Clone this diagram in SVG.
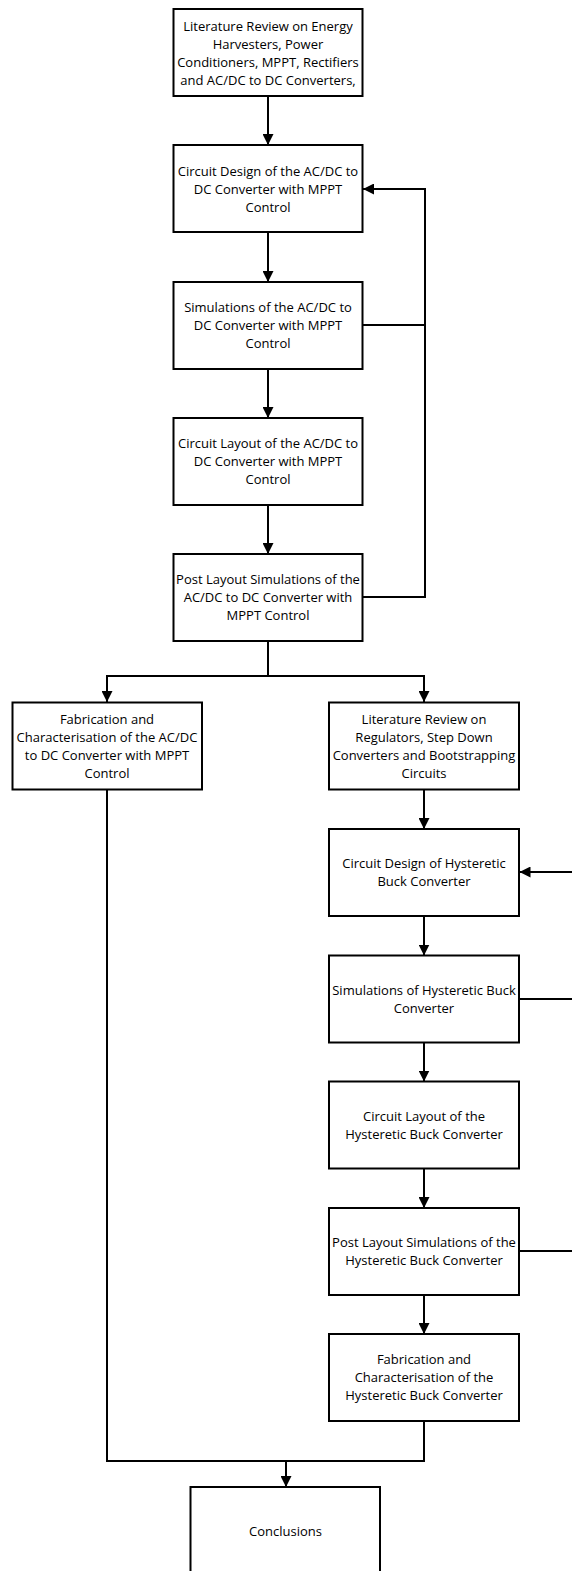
<svg xmlns="http://www.w3.org/2000/svg" width="572" height="1571" viewBox="0 0 572 1571">
<style>
.box{fill:#fff;stroke:#000;stroke-width:2}
.ln{fill:none;stroke:#000;stroke-width:2}
text{font-family:"Open Sans","Noto Sans",sans-serif;font-size:13px;fill:#000;text-anchor:middle}
</style>
<defs>
<marker id="ah" viewBox="0 0 10 10" refX="10" refY="5" markerWidth="5.5" markerHeight="5.5" orient="auto" markerUnits="strokeWidth">
<path d="M0,0L10,5L0,10z" fill="#000"/>
</marker>
</defs>
<rect width="572" height="1571" fill="#fff"/>
<g id="connectors">
<line class="ln" x1="268" y1="96" x2="268" y2="145" marker-end="url(#ah)"/>
<line class="ln" x1="268" y1="232" x2="268" y2="282" marker-end="url(#ah)"/>
<line class="ln" x1="268" y1="369" x2="268" y2="418" marker-end="url(#ah)"/>
<line class="ln" x1="268" y1="505" x2="268" y2="554" marker-end="url(#ah)"/>
<path class="ln" d="M362.5,325H425M362.5,597H425V189H363" marker-end="url(#ah)"/>
<path class="ln" d="M268,641V676H107V702" marker-end="url(#ah)"/>
<path class="ln" d="M268,676H424V702" marker-end="url(#ah)"/>
<line class="ln" x1="424" y1="789.5" x2="424" y2="829" marker-end="url(#ah)"/>
<line class="ln" x1="424" y1="916" x2="424" y2="955.5" marker-end="url(#ah)"/>
<line class="ln" x1="424" y1="1042.5" x2="424" y2="1081.5" marker-end="url(#ah)"/>
<line class="ln" x1="424" y1="1168.5" x2="424" y2="1208" marker-end="url(#ah)"/>
<line class="ln" x1="424" y1="1295" x2="424" y2="1334" marker-end="url(#ah)"/>
<line class="ln" x1="572" y1="872" x2="519.5" y2="872" marker-end="url(#ah)"/>
<line class="ln" x1="519" y1="999" x2="572" y2="999"/>
<line class="ln" x1="519" y1="1251" x2="572" y2="1251"/>
<path class="ln" d="M107,789.5V1461H424V1421"/>
<line class="ln" x1="286" y1="1461" x2="286" y2="1487" marker-end="url(#ah)"/>
</g>
<g id="n1"><rect class="box" x="173.5" y="9" width="189" height="87"/>
<text x="268" y="30.5">Literature Review on Energy</text><text x="268" y="48.5">Harvesters, Power</text><text x="268" y="66.5">Conditioners, MPPT, Rectifiers</text><text x="268" y="84.5">and AC/DC to DC Converters,</text></g>
<g id="n2"><rect class="box" x="173.5" y="145" width="189" height="87"/>
<text x="268" y="175.5">Circuit Design of the AC/DC to</text><text x="268" y="193.5">DC Converter with MPPT</text><text x="268" y="211.5">Control</text></g>
<g id="n3"><rect class="box" x="173.5" y="282" width="189" height="87"/>
<text x="268" y="312">Simulations of the AC/DC to</text><text x="268" y="330">DC Converter with MPPT</text><text x="268" y="348">Control</text></g>
<g id="n4"><rect class="box" x="173.5" y="418" width="189" height="87"/>
<text x="268" y="448">Circuit Layout of the AC/DC to</text><text x="268" y="466">DC Converter with MPPT</text><text x="268" y="484">Control</text></g>
<g id="n5"><rect class="box" x="173.5" y="554" width="189" height="87"/>
<text x="268" y="584">Post Layout Simulations of the</text><text x="268" y="602">AC/DC to DC Converter with</text><text x="268" y="620">MPPT Control</text></g>
<g id="n6"><rect class="box" x="12.5" y="702.5" width="189.5" height="87"/>
<text x="107" y="724">Fabrication and</text><text x="107" y="742">Characterisation of the AC/DC</text><text x="107" y="760">to DC Converter with MPPT</text><text x="107" y="778">Control</text></g>
<g id="n7"><rect class="box" x="329" y="702.5" width="190" height="87"/>
<text x="424" y="724">Literature Review on</text><text x="424" y="742">Regulators, Step Down</text><text x="424" y="760">Converters and Bootstrapping</text><text x="424" y="778">Circuits</text></g>
<g id="n8"><rect class="box" x="329" y="829" width="190" height="87"/>
<text x="424" y="868">Circuit Design of Hysteretic</text><text x="424" y="886">Buck Converter</text></g>
<g id="n9"><rect class="box" x="329" y="955.5" width="190" height="87"/>
<text x="424" y="994.5">Simulations of Hysteretic Buck</text><text x="424" y="1012.5">Converter</text></g>
<g id="n10"><rect class="box" x="329" y="1081.5" width="190" height="87"/>
<text x="424" y="1120.5">Circuit Layout of the</text><text x="424" y="1138.5">Hysteretic Buck Converter</text></g>
<g id="n11"><rect class="box" x="329" y="1208" width="190" height="87"/>
<text x="424" y="1247">Post Layout Simulations of the</text><text x="424" y="1265">Hysteretic Buck Converter</text></g>
<g id="n12"><rect class="box" x="329" y="1334" width="190" height="87"/>
<text x="424" y="1364">Fabrication and</text><text x="424" y="1382">Characterisation of the</text><text x="424" y="1400">Hysteretic Buck Converter</text></g>
<g id="n13"><rect class="box" x="190.5" y="1487" width="189.5" height="100"/>
<text x="285.5" y="1535.5">Conclusions</text></g>
</svg>
